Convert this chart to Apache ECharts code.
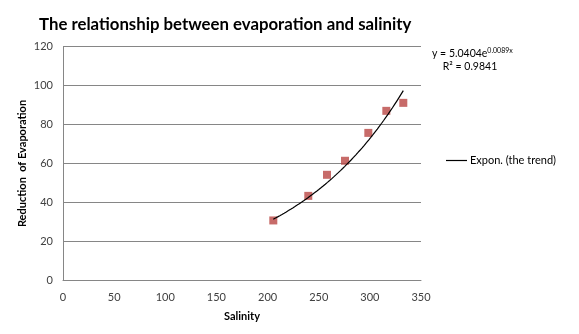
<!DOCTYPE html>
<html>
<head>
<meta charset="utf-8">
<script src="https://cdn.jsdelivr.net/npm/echarts@6/dist/echarts.min.js"></script>
<style>
html,body{margin:0;padding:0;background:#fff;}
#c{width:579px;height:334px;}
</style>
</head>
<body>
<div id="c"></div>
<script>
var salinity  = [205.6, 239.8, 258.1, 275.7, 298.5, 316.1, 332.7];
var reduction = [30.8, 43.4, 54.2, 61.4, 75.7, 87.0, 91.1];
// Trend equation shown on the chart: y = a * e^(b x)
var trendA = 5.0404;
var trendB = 0.0089;
var xTicks = [0, 50, 100, 150, 200, 250, 300, 350];
var yTicks = [0, 20, 40, 60, 80, 100, 120];

var font = 'Lato, "Open Sans", sans-serif';
var points = salinity.map(function (x, i) { return [x, reduction[i]]; });
var trend = [];
var xmin = Math.min.apply(null, salinity), xmax = Math.max.apply(null, salinity);
for (var k = 0; k <= 60; k++) {
  var x = xmin + (xmax - xmin) * k / 60;
  trend.push([x, trendA * Math.exp(trendB * x)]);
}

var chart = echarts.init(document.getElementById('c'));
chart.setOption({
  animation: false,
  backgroundColor: '#ffffff',
  textStyle: { fontFamily: font },
  title: {
    text: 'The relationship between evaporation and salinity',
    left: 34, top: 11,
    textStyle: { fontFamily: font, fontSize: 16.8, fontWeight: 'bold', color: '#000' }
  },
  grid: { left: 63, top: 46.5, width: 358, height: 234 },
  legend: {
    data: [{ name: 'Expon. (the trend)', icon: 'rect' }],
    left: 441, top: 150,
    itemWidth: 21, itemHeight: 1.2, itemGap: 4,
    textStyle: { fontFamily: font, fontSize: 11, color: '#000', padding: [0, 0, 0, -2] }
  },
  xAxis: {
    type: 'value', min: 0, max: 350, interval: 50,
    name: 'Salinity', nameLocation: 'middle', nameGap: 30, nameMoveOverlap: false,
    nameTextStyle: { fontFamily: font, fontSize: 11, fontWeight: 'bold', color: '#000' },
    axisLine: { show: true, lineStyle: { color: '#868686' } },
    axisTick: { show: false },
    splitLine: { show: false },
    axisLabel: { margin: 11, fontSize: 11, color: '#404040', fontFamily: font }
  },
  yAxis: {
    type: 'value', min: 0, max: 120, interval: 20,
    name: 'Reduction  of Evaporation', nameLocation: 'middle', nameGap: 35, nameMoveOverlap: false,
    nameTextStyle: { fontFamily: font, fontSize: 11, fontWeight: 'bold', color: '#000' },
    axisLine: { show: true, lineStyle: { color: '#868686' } },
    axisTick: { show: false },
    splitLine: { show: true, lineStyle: { color: '#868686' } },
    axisLabel: { margin: 10, fontSize: 11, color: '#404040', fontFamily: font }
  },
  series: [
    {
      name: 'data', type: 'scatter', data: points,
      symbol: 'rect', symbolSize: 8,
      itemStyle: { color: '#B94643' }, z: 3
    },
    {
      name: 'Expon. (the trend)', type: 'line', data: trend,
      showSymbol: false, symbol: 'none', smooth: false,
      lineStyle: { color: '#000', width: 1.2 },
      itemStyle: { color: '#000' }, z: 4
    }
  ],
  graphic: [
    {
      type: 'text', left: 432, top: 47,
      style: {
        text: '{n|y = 5.0404e}{s|0.0089x}\n{n|    R² = 0.9841}',
        rich: {
          n: { fontFamily: font, fontSize: 10.5, fill: '#000', lineHeight: 13 },
          s: { fontFamily: font, fontSize: 7, fill: '#000', verticalAlign: 'top', lineHeight: 13, padding: [0, 0, 6, 0] }
        }
      }
    }
  ]
});
</script>
</body>
</html>
